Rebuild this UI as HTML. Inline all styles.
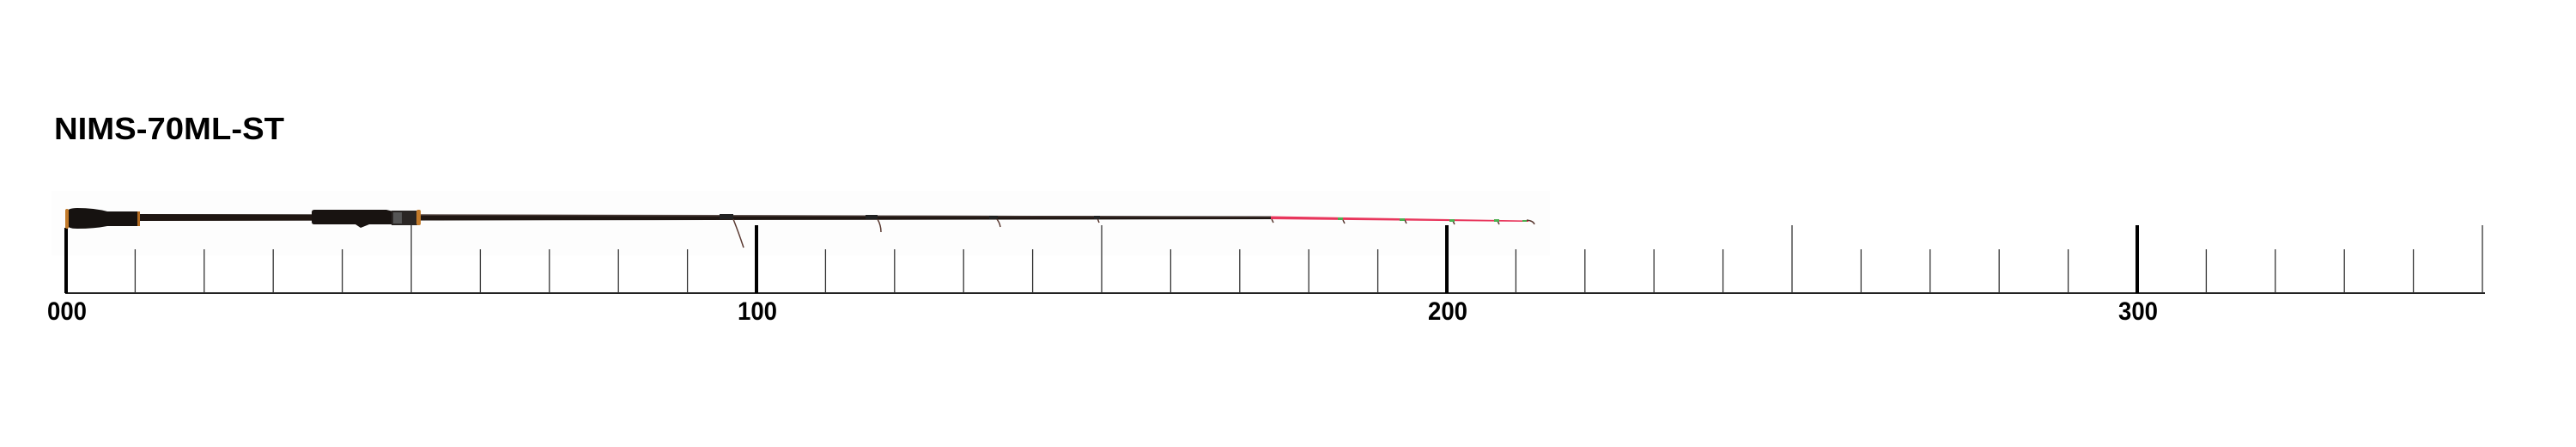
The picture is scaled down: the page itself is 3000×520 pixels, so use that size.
<!DOCTYPE html>
<html><head><style>
html,body{margin:0;padding:0;background:#fff;}
svg{display:block}
</style></head><body>
<svg width="3000" height="520" viewBox="0 0 3000 520" xmlns="http://www.w3.org/2000/svg">
<rect x="60" y="222" width="1745" height="75" fill="#fdfdfd"/>
<text x="63" y="162" font-family="Liberation Sans, sans-serif" font-weight="bold" font-size="36" fill="#000" textLength="268" lengthAdjust="spacingAndGlyphs">NIMS-70ML-ST</text>
<line x1="76" y1="341" x2="2894" y2="341" stroke="#222" stroke-width="2"/>
<g stroke="#333" stroke-width="1.3" id="ticks"></g>
<g font-family="Liberation Sans, sans-serif" font-weight="bold" font-size="30" text-anchor="middle" fill="#000">
<text x="78" y="372" textLength="46" lengthAdjust="spacingAndGlyphs">000</text>
<text x="882" y="372" textLength="46" lengthAdjust="spacingAndGlyphs">100</text>
<text x="1686" y="372" textLength="46" lengthAdjust="spacingAndGlyphs">200</text>
<text x="2490" y="372" textLength="46" lengthAdjust="spacingAndGlyphs">300</text>
</g>
<polygon points="160,249 1480,251.5 1480,255 160,257" fill="#1f1612"/>
<polygon points="1480,251.5 1780,256.5 1780,258 1480,255" fill="#e8365c"/>
<polygon points="480,249 1480,251.8 1480,253 480,251" fill="#5a4a44" opacity="0.6"/>
<path d="M78,247 Q78,242 90,242 Q110,242 125,246 L160,246 Q163,246 163,249 L163,260 Q163,263 160,263 L125,263 Q110,266 90,266 Q78,266 78,261 Z" fill="#161210"/>
<rect x="76" y="243" width="4" height="23" rx="2" fill="#c27a2a"/>
<rect x="160" y="246" width="3" height="17" fill="#b06a22"/>
<path d="M366,244 L450,244 L458,246 L458,261 L430,261 L420,265 L414,261 L366,261 Q363,261 363,258 L363,247 Q363,244 366,244 Z" fill="#181311"/>
<rect x="456" y="245" width="30" height="17" fill="#2a2624"/>
<rect x="458" y="247" width="10" height="13" fill="#555"/>
<rect x="485" y="244" width="5" height="18" rx="2" fill="#c27a2a"/>
<g stroke="#5a3a32" stroke-width="1.5" fill="none">
<path d="M854,255 Q860,270 866,288"/>
<path d="M1022,255 Q1026,262 1026,270"/>
<path d="M1160,254 Q1164,258 1165,264"/>
<path d="M1278,254 L1280,259"/>
<path d="M1481,255 L1483,259"/>
<path d="M1564,256 L1566,260"/>
<path d="M1636,256 L1638,260"/>
<path d="M1692,257 L1694,261"/>
<path d="M1744,257 L1746,261"/>
<path d="M1778,256 Q1786,257 1787,261"/>
</g>
<g fill="#222">
<rect x="838" y="249" width="16" height="6"/>
<rect x="1008" y="250" width="14" height="5"/>
<rect x="1152" y="251" width="10" height="4"/>
<rect x="1274" y="251" width="7" height="4"/>
</g>
<g fill="#4caf50">
<rect x="1558" y="253" width="6" height="3"/>
<rect x="1630" y="254" width="6" height="3"/>
<rect x="1688" y="255" width="6" height="3"/>
<rect x="1740" y="255" width="6" height="3"/>
<rect x="1773" y="256" width="5" height="2"/>
</g>
</svg>
<script>
(function(){
var g=document.getElementById('ticks');
for(var i=0;i<=35;i++){
 var x=77+i*80.4;
 var l=document.createElementNS('http://www.w3.org/2000/svg','line');
 var top=290, w=1.3;
 if(i%10==0){top=262;w=4;}
 else if(i%5==0){top=262;w=1.3;}
 if(i==0){top=265;}
 l.setAttribute('x1',x);l.setAttribute('x2',x);
 l.setAttribute('y1',top);l.setAttribute('y2',341);
 l.setAttribute('stroke-width',w);
 if(i%10==0) l.setAttribute('stroke','#000');
 g.appendChild(l);
}
})();
</script>
</body></html>
